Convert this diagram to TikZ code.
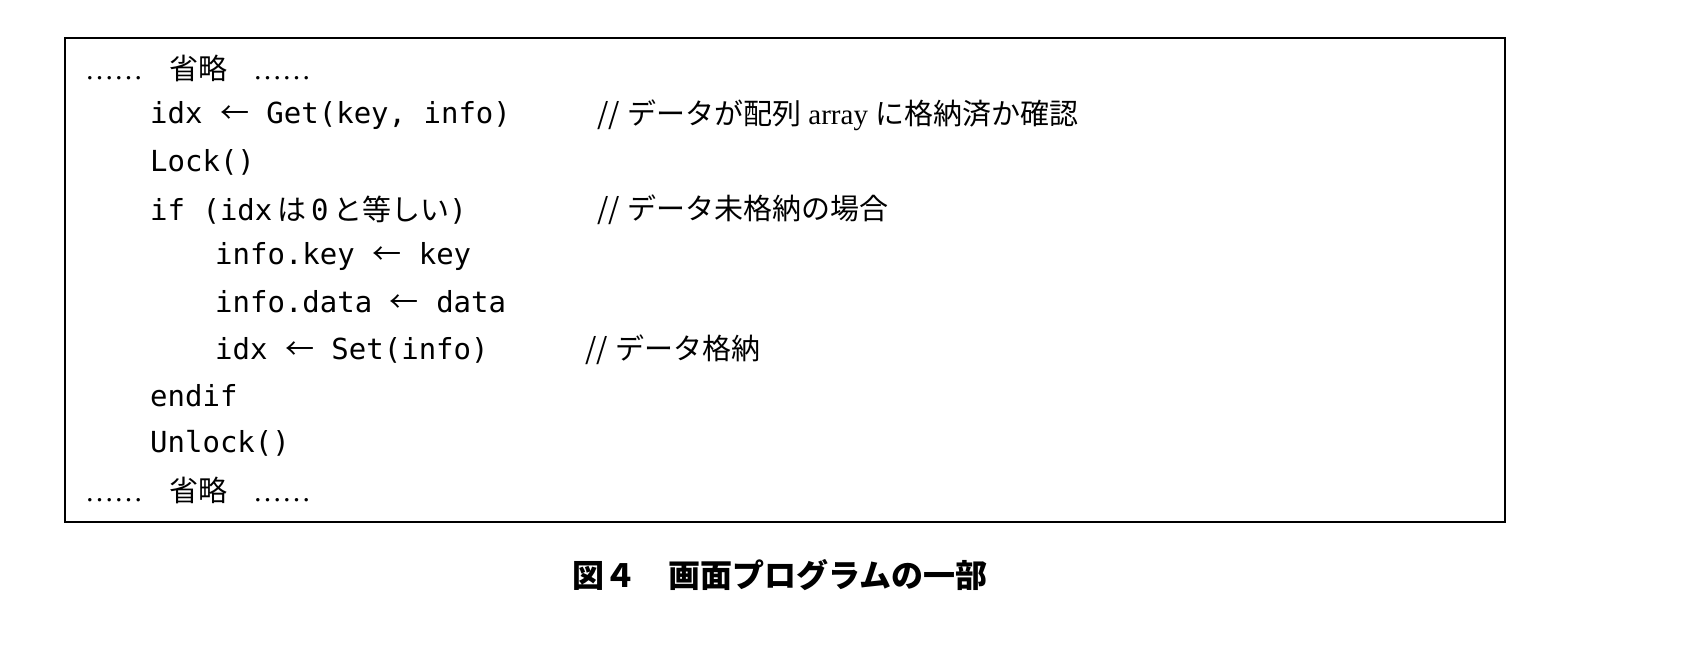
\documentclass[tikz,border=0pt]{standalone}
\usepackage{fontspec}
\setmonofont{DejaVu Sans Mono}
\setmainfont{Liberation Serif}
\newfontfamily\jp{Noto Sans CJK JP}
\usetikzlibrary{positioning}
\newcommand{\getsarrow}{{\jp ←}}
\tikzset{
    codeline/.style={anchor=west, inner sep=0pt, font=\fontsize{29}{30}\selectfont\ttfamily},
    comment/.style={anchor=west, inner sep=0pt, font=\fontsize{29}{30}\selectfont},
    frame/.style={draw, line width=1.6pt}
}
\begin{document}
\begin{tikzpicture}[x=1pt, y=-1pt]
    \useasboundingbox (0,0) rectangle (1698,658);
    \draw[frame] (65,38) rectangle (1505,522);
    % code lines
    \node[comment] (skip_top) at (85,68) {……\hspace{26pt}{\jp 省略}\hspace{26pt}……};
    \node[codeline] (get_line) at (150,115) {idx \getsarrow{} Get(key, info)};
    \node[codeline] (lock_line) at (150,162) {Lock()};
    \node[codeline] (if_line) at (150,210) {if (idx\,{\jp は}\,0\,{\jp と等しい})};
    \node[codeline] (key_line) at (215,256) {info.key \getsarrow{} key};
    \node[codeline] (data_line) at (215,302) {info.data \getsarrow{} data};
    \node[codeline] (set_line) at (215,350) {idx \getsarrow{} Set(info)};
    \node[codeline] (endif_line) at (150,396) {endif};
    \node[codeline] (unlock_line) at (150,443) {Unlock()};
    \node[comment] (skip_bottom) at (85,490) {……\hspace{26pt}{\jp 省略}\hspace{26pt}……};
    % comments
    \node[comment] (get_note) at (597,115) {{\jp //} {\jp データが配列} array {\jp に格納済か確認}};
    \node[comment] (if_note) at (597,210) {{\jp //} {\jp データ未格納の場合}};
    \node[comment] (set_note) at (585,350) {{\jp //} {\jp データ格納}};
    % caption
    \node[font=\fontsize{32}{34}\selectfont\jp\bfseries] (caption) at (780,575) {図４　画面プログラムの一部};
\end{tikzpicture}
\end{document}
